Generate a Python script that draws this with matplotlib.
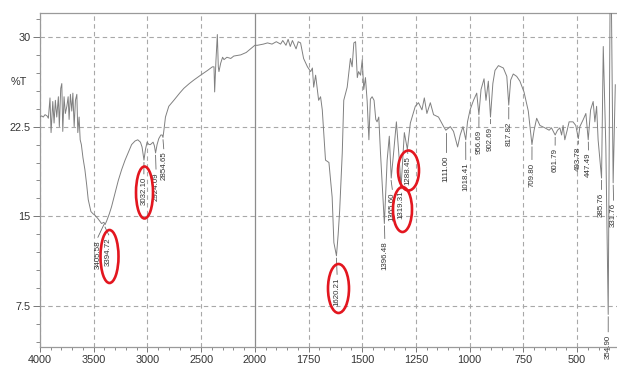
import numpy as np
import matplotlib
matplotlib.use("Agg")
import matplotlib.pyplot as plt
from matplotlib.path import Path
from matplotlib.transforms import Affine2D, blended_transform_factory

plt.rcParams["font.family"] = ["Liberation Sans", "DejaVu Sans"]

# spectrum: wavenumber (cm-1) and %T
wavenumber = [
    4000, 3985, 3970, 3953, 3935, 3922, 3907, 3897, 3881, 3869, 3857, 3844,
    3829, 3820, 3807, 3797, 3788, 3776, 3764, 3750, 3738, 3729, 3717, 3704,
    3694, 3682, 3670, 3657, 3648, 3636, 3626, 3615, 3600, 3582, 3565, 3551,
    3526, 3505, 3489, 3460, 3427, 3405, 3395, 3380, 3355, 3334, 3300, 3271,
    3240, 3208, 3175, 3147, 3115, 3090, 3065, 3050, 3032, 3018, 3003, 2985,
    2972, 2947, 2935, 2924, 2910, 2894, 2875, 2863, 2855, 2845, 2832, 2801,
    2754, 2700, 2661, 2610, 2567, 2505, 2440, 2395, 2380, 2374, 2362, 2349,
    2340, 2334, 2318, 2300, 2287, 2260, 2224, 2196, 2131, 2080, 2053, 2000,
    1988, 1960, 1941, 1920, 1900, 1880, 1870, 1855, 1845, 1835, 1825, 1808,
    1798, 1787, 1773, 1755, 1740, 1732, 1726, 1717, 1703, 1694, 1686, 1671,
    1655, 1640, 1632, 1620, 1612, 1605, 1593, 1586, 1570, 1555, 1547, 1539,
    1531, 1523, 1517, 1508, 1500, 1493, 1485, 1477, 1469, 1462, 1454, 1445,
    1437, 1431, 1423, 1415, 1405, 1397, 1384, 1374, 1365, 1354, 1341, 1330,
    1319, 1304, 1290, 1276, 1253, 1238, 1222, 1211, 1199, 1183, 1168, 1145,
    1121, 1111, 1090, 1075, 1056, 1044, 1031, 1018, 1010, 998, 982, 967,
    957, 947, 933, 924, 913, 903, 892, 882, 866, 843, 827, 818,
    809, 797, 781, 766, 747, 727, 710, 700, 688, 673, 650, 630,
    619, 602, 591, 580, 572, 565, 557, 546, 537, 519, 506, 494,
    487, 471, 459, 448, 437, 425, 417, 409, 402, 386, 378, 366,
    355, 344, 332, 322,
]
transmittance = [
    23.3, 23.4, 23.3, 23.5, 23.4, 23.2, 24.9, 22.0, 24.6, 22.8, 24.7, 23.3,
    25.0, 22.5, 25.7, 26.1, 22.1, 25.0, 23.6, 24.2, 25.0, 23.1, 25.2, 23.8,
    25.3, 22.5, 24.7, 25.2, 22.0, 23.3, 21.4, 21.0, 19.9, 18.9, 17.6, 16.4,
    15.4, 15.2, 15.1, 14.8, 14.4, 14.5, 14.3, 14.6, 15.2, 15.8, 17.0, 18.0,
    18.9, 19.7, 20.4, 21.0, 21.3, 21.4, 21.2, 20.8, 19.7, 20.6, 21.2, 21.0,
    21.0, 21.2, 20.9, 20.3, 21.0, 21.5, 21.8, 21.8, 21.6, 22.3, 23.3, 24.2,
    24.7, 25.3, 25.7, 26.1, 26.4, 26.8, 27.2, 27.5, 27.5, 25.4, 28.0, 30.2,
    27.5, 27.1, 27.8, 28.3, 28.1, 28.3, 28.2, 28.4, 28.5, 28.7, 28.9, 29.3,
    29.3, 29.4, 29.5, 29.4, 29.6, 29.4, 29.7, 29.3, 29.8, 29.2, 29.7, 29.0,
    29.6, 29.5, 28.2, 27.5, 27.1, 27.4, 25.8, 26.8, 24.7, 25.0, 23.9, 19.7,
    19.5, 16.6, 12.8, 11.7, 13.5, 15.5, 20.3, 24.7, 25.8, 28.2, 27.5, 29.5,
    29.6, 26.6, 27.1, 26.8, 28.1, 25.6, 26.6, 24.6, 21.4, 24.8, 25.0, 24.7,
    23.1, 22.9, 23.3, 20.3, 17.0, 14.4, 19.7, 21.7, 18.2, 20.3, 22.9, 20.3,
    17.5, 22.0, 20.6, 22.8, 24.2, 24.5, 23.9, 24.9, 23.6, 24.5, 23.5, 23.3,
    22.5, 22.2, 22.5, 22.1, 20.8, 21.8, 22.5, 21.4, 22.9, 23.9, 24.7, 25.3,
    23.5, 25.6, 26.5, 24.7, 26.3, 23.3, 26.1, 27.2, 27.6, 27.4, 26.7, 24.3,
    26.4, 26.9, 26.7, 26.3, 25.4, 23.8, 21.0, 22.2, 23.2, 22.6, 22.4, 22.2,
    22.4, 21.8, 22.2, 22.4, 21.8, 22.6, 21.4, 22.2, 22.9, 22.9, 22.6, 21.5,
    22.5, 23.1, 23.6, 21.4, 23.9, 24.6, 22.9, 24.2, 21.4, 18.2, 29.2, 20.8,
    6.8, 40.0, 17.8, 26.0,
]

# peak labels: text, peak position, %T at peak, label x, label top
peak_names = [
    "3405.58", "3394.72", "3032.10", "2924.09", "2854.65", "1620.21",
    "1396.48", "1365.60", "1319.31", "1288.45", "1111.00", "1018.41",
    "956.69", "902.69", "817.82", "709.80", "601.79", "493.78",
    "447.49", "385.76", "354.90", "331.76",
]
peak_wn = [3405.58, 3394.72, 3032.10, 2924.09, 2854.65, 1620.21,
           1396.48, 1365.60, 1319.31, 1288.45, 1111.00, 1018.41,
           956.69, 902.69, 817.82, 709.80, 601.79, 493.78,
           447.49, 385.76, 354.90, 331.76]
peak_t = [14.5, 14.3, 19.7, 20.3, 21.6, 11.7,
          14.4, 18.2, 17.5, 20.6, 22.2, 21.4,
          23.5, 23.3, 24.3, 21.0, 21.8, 21.5,
          21.4, 18.2, 6.8, 17.8]
label_x = [3461, 3360, 3033, 2920, 2848, 1617,
           1395, 1360, 1319, 1288, 1111, 1018,
           957, 903, 818, 710, 602, 494,
           447, 386, 355, 330]
label_top = [13.0, 13.2, 18.3, 18.7, 20.4, 9.9,
             12.9, 17.0, 17.2, 20.0, 20.1, 19.5,
             22.2, 22.5, 22.9, 19.5, 20.7, 20.8,
             20.3, 17.0, 5.1, 16.1]

# red ellipses drawn round some labels: centre (cm-1, %T), size in pixels
ring_wn = [3355, 3033, 1613, 1313, 1285]
ring_t = [11.7, 17.0, 9.0, 15.6, 18.9]
ring_w = [18, 17, 21, 19, 21]
ring_h = [53, 52, 49, 45, 40]

x_major = [4000, 3500, 3000, 2500, 2000, 1750, 1500, 1250, 1000, 750, 500]
y_major = [7.5, 15, 22.5, 30]


def forward(x):
    x = np.asarray(x, dtype=float)
    return np.where(x > 2000, 2000 + (x - 2000) / 2, x)


def inverse(u):
    u = np.asarray(u, dtype=float)
    return np.where(u > 2000, 2000 + (u - 2000) * 2, u)


fig = plt.figure(figsize=(6.17, 3.70), dpi=100)
ax = fig.add_axes([40 / 617, 23.3 / 370, 600 / 617, 333.7 / 370])
ax.set_xscale("function", functions=(forward, inverse))
ax.set_xlim(4000, 207)
ax.set_ylim(4.1, 32.0)

grid_c = "#a8a8a8"
for v in x_major:
    if v == 2000:
        ax.axvline(v, color="#8c8c8c", lw=0.9, zorder=1)
    else:
        ax.axvline(v, color=grid_c, lw=0.8, ls=(0, (4, 3)), zorder=1)
for v in y_major:
    ax.axhline(v, color=grid_c, lw=0.8, ls=(0, (4, 3)), zorder=1)

ax.plot(wavenumber, transmittance, color="#808080", lw=0.7, zorder=3)

for name, pw, pt, lx, lt in zip(peak_names, peak_wn, peak_t, label_x, label_top):
    ax.plot([pw, lx], [pt - 0.2, lt + 0.25], color="#6a6a6a", lw=0.6, zorder=3,
            clip_on=False)
    ax.text(lx, lt, name, rotation=90, ha="center", va="top", fontsize=5.7,
            color="#333333", zorder=4)

for cx, cy, w, h in zip(ring_wn, ring_t, ring_w, ring_h):
    ring = Affine2D().scale(w / h, 1.0).transform_path(Path.unit_circle())
    ax.plot([cx], [cy], marker=ring, ms=h * 0.72, mfc="none", mec="#e3161f",
            mew=1.9, zorder=5, clip_on=False)

ax.set_xticks(x_major)
ax.set_xticklabels([str(v) for v in x_major])
ax.set_xticks(list(np.arange(4000, 2000, -100)) + list(np.arange(2000, 200, -50)),
              minor=True)
ax.set_yticks(y_major)
ax.set_yticklabels(["7.5", "15", "22.5", "30"])
ax.set_yticks(np.arange(4.5, 32.0, 1.5), minor=True)

ax.tick_params(axis="x", which="major", length=3.5, width=0.7, color="#777777",
               labelsize=7.8, labelcolor="#333333", pad=2.5)
ax.tick_params(axis="x", which="minor", length=2.5, width=0.6, color="#777777")
ax.tick_params(axis="y", which="major", length=5, width=0.7, color="#777777",
               labelsize=7.8, labelcolor="#333333", pad=2)
ax.tick_params(axis="y", which="minor", length=3, width=0.6, color="#777777")

for side in ["left", "bottom", "top"]:
    ax.spines[side].set_color("#9a9a9a")
    ax.spines[side].set_linewidth(0.9)
ax.spines["right"].set_visible(False)

tr = blended_transform_factory(ax.transAxes, ax.transData)
ax.text(-0.035, 26.2, "%T", transform=tr, ha="center", va="center",
        fontsize=7.8, color="#333333")

fig.savefig("out.png", dpi=100)
